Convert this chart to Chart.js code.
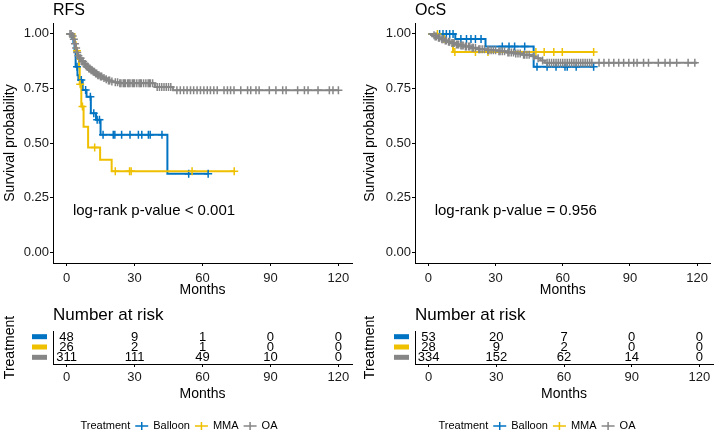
<!DOCTYPE html>
<html>
<head>
<meta charset="utf-8">
<script src="https://cdn.jsdelivr.net/npm/chart.js@4.4.1/dist/chart.umd.min.js"></script>
<style>
  body { margin: 0; background: #fff; }
  #wrap { position: relative; width: 716px; height: 433px; }
  canvas { position: absolute; }
</style>
</head>
<body>
<div id="wrap">
  <canvas id="kmRfs" width="358" height="300" style="left:0;top:0"></canvas>
  <canvas id="kmOcs" width="358" height="300" style="left:358px;top:0"></canvas>
  <canvas id="riskRfs" width="358" height="133" style="left:0;top:300px"></canvas>
  <canvas id="riskOcs" width="358" height="133" style="left:358px;top:300px"></canvas>
</div>
<script>
const FONT = "'Liberation Sans', Arial, sans-serif";
Chart.defaults.font.family = FONT;
Chart.defaults.color = "#000";

const groups = ["Balloon", "MMA", "OA"];
const groupColors = ["#0073C2", "#EFC000", "#868686"];
const xTicks = [0, 30, 60, 90, 120];
const yTicks = [0, 0.25, 0.5, 0.75, 1];

// RFS step curves: [month, survival]
const rfsBalloon = [[0,1],[2.5,0.979],[3,0.958],[3.5,0.917],[4,0.85],[4.8,0.81],[5.2,0.789],[7.1,0.743],[8.8,0.712],[10.7,0.636],[13,0.606],[15,0.538],[44.5,0.359],[62.5,0.359]];
const rfsMma = [[0,1],[3.5,0.962],[4,0.923],[5,0.885],[5.5,0.846],[5.8,0.769],[6.5,0.667],[7.5,0.575],[9.5,0.479],[14.8,0.423],[19.9,0.37],[74,0.37]];
const rfsOa = [[0,1],[2.5,0.99],[3,0.975],[3.5,0.955],[4,0.935],[4.5,0.915],[5,0.9],[5.5,0.888],[6.5,0.873],[7.5,0.862],[8.5,0.851],[9.5,0.841],[10.5,0.834],[11.5,0.826],[12.5,0.818],[13.5,0.811],[14.5,0.805],[16,0.798],[17,0.792],[18,0.787],[19.5,0.782],[21,0.778],[23,0.774],[39,0.757],[47,0.742],[120,0.742]];

// RFS censoring times (months)
const rfsBalloonCens = [4.6,6.5,8.4,10.5,12,13.5,14.5,16.1,20.6,21.3,24.3,28,31.7,33.2,36.1,36.9,42.1,53.9,62.5];
const rfsMmaCens = [4.6,6,7,12.4,21.5,27.8,28.5,55.4,74];
const rfsOaCens = [1.5,2,2.7,3.2,3.7,4.2,4.7,5.2,5.8,6.2,6.8,7.3,7.8,8.2,8.8,9.3,9.8,10.3,10.8,11.3,11.8,12.3,12.8,13.3,13.8,14.3,15,15.5,16.5,17.5,18.5,19,20,21.5,22.5,23.5,24,25,25.5,26,27,27.5,28,29,29.5,30,31,32,32.5,33,34,35,36,36.5,37,38,40,41,42,43,44,45,46,48.7,50.2,51.7,53.2,54.7,56.1,57.6,59.1,60.6,62.1,63.5,65,66.5,69.5,71,72.4,73.9,76.9,79.9,81.3,83.6,85,89.5,92.4,95.4,96.9,102,105,106.6,111,116,117.6,120];

// OcS step curves
const ocsBalloon = [[0,1],[12,0.977],[25.5,0.942],[47,0.85],[74,0.85]];
const ocsMma = [[0,1],[7,0.964],[11,0.917],[74,0.917]];
const ocsOa = [[0,1],[2,0.994],[3,0.988],[4,0.982],[5.5,0.976],[7,0.97],[8.5,0.964],[10,0.958],[12,0.952],[14,0.947],[16,0.942],[19,0.936],[22,0.93],[26,0.925],[31,0.92],[35,0.915],[38.5,0.91],[42,0.905],[46,0.898],[47.5,0.888],[50,0.878],[52,0.868],[120,0.868]];

// OcS censoring times
const ocsBalloonCens = [5,6.5,8,9.5,11,14.5,17,19,21,23.5,33,36,38.5,43,48.5,53,57,61,62,66,73.8];
const ocsMmaCens = [4,11.8,21,26.6,48,51.7,56,59.8,73.8];
const ocsOaCens = [2.5,3,3.5,4.5,5,6,6.5,7.5,8,9,9.5,10.5,11,11.5,12.5,13,13.5,14.5,15,15.5,16.5,17,18,18.5,19.5,20,21,22.5,23,24,25,26.5,27,28,29,30,31.5,32,33,34,35.5,36,37,38,39,40,41,42.5,43,44,45,47,49,51,53,54,55,56,57,58,59,60,61,62,63,64,65,66,67,68,69,70,71,72,73,76.2,78.4,80.6,82.8,85,87.2,89.5,91.7,93.2,96.1,98.3,102.7,105.7,107.9,110.9,116,119];

// number at risk at xTicks
const rfsRiskBalloon = [48, 9, 1, 0, 0];
const rfsRiskMma = [26, 2, 1, 0, 0];
const rfsRiskOa = [311, 111, 49, 10, 0];
const ocsRiskBalloon = [53, 20, 7, 0, 0];
const ocsRiskMma = [28, 9, 2, 0, 0];
const ocsRiskOa = [334, 152, 62, 14, 0];

function survAt(steps, t) {
  let s = steps[0][1];
  steps.forEach(p => { if (p[0] <= t) s = p[1]; });
  return s;
}

function xScale(height, pad) {
  return {
    type: "linear", min: -6, max: 126,
    afterBuildTicks: s => { s.ticks = xTicks.map(v => ({ value: v })); },
    afterFit: s => { s.height = height; },
    ticks: { font: { size: 13 }, color: "#1a1a1a", padding: pad, maxRotation: 0, autoSkip: false },
    grid: { drawOnChartArea: false, tickLength: 3, color: "#000" },
    border: { color: "#000", width: 1 },
    title: { display: true, text: "Months", font: { size: 14 }, color: "#000", padding: { top: 0, bottom: 1 } }
  };
}

function kmChart(id, o) {
  const datasets = [];
  // censor marks first so they are drawn on top of the lines
  for (let i = groups.length - 1; i >= 0; i--) {
    datasets.push({
      data: o.cens[i].map(t => ({ x: t, y: survAt(o.curves[i], t) })),
      pointStyle: "cross", pointRadius: 4, borderWidth: 1.5,
      borderColor: groupColors[i], showLine: false
    });
  }
  for (let i = groups.length - 1; i >= 0; i--) {
    datasets.push({
      data: o.curves[i].map(p => ({ x: p[0], y: p[1] })),
      showLine: true, stepped: "before", pointRadius: 0,
      borderWidth: 2, borderColor: groupColors[i], fill: false
    });
  }

  new Chart(document.getElementById(id), {
    type: "scatter",
    data: { datasets },
    options: {
      responsive: false, animation: false, devicePixelRatio: 1, events: [],
      layout: { padding: { top: 23, right: o.rightPad, bottom: 0, left: 0 } },
      scales: {
        x: xScale(37, 5),
        y: {
          type: "linear", min: -0.05, max: 1.05,
          afterBuildTicks: s => { s.ticks = yTicks.map(v => ({ value: v })); },
          afterFit: s => { s.width = o.leftW; },
          ticks: { font: { size: 13 }, color: "#1a1a1a", padding: 1, callback: v => v.toFixed(2) },
          grid: { drawOnChartArea: false, tickLength: 3, color: "#000" },
          border: { color: "#000", width: 1 },
          title: { display: true, text: "Survival probability", font: { size: 14 }, color: "#000", padding: { top: o.titlePad, bottom: 0 } }
        }
      },
      plugins: { legend: { display: false }, tooltip: { enabled: false } }
    },
    plugins: [{
      id: "kmText",
      afterDraw(chart) {
        const ctx = chart.ctx, a = chart.chartArea;
        ctx.save();
        ctx.fillStyle = "#000";
        ctx.textAlign = "left";
        ctx.textBaseline = "middle";
        ctx.font = "16px " + FONT;
        ctx.fillText(o.title, a.left, 11);
        ctx.font = "15px " + FONT;
        ctx.fillText(o.pval, chart.scales.x.getPixelForValue(2.8), chart.scales.y.getPixelForValue(0.19));
        ctx.restore();
      }
    }]
  });
}

function riskChart(id, o) {
  new Chart(document.getElementById(id), {
    type: "scatter",
    data: { datasets: [] },
    options: {
      responsive: false, animation: false, devicePixelRatio: 1, events: [],
      layout: { padding: { top: 31, right: o.rightPad, bottom: 29, left: 0 } },
      scales: {
        x: xScale(40, 3),
        y: {
          type: "linear", min: 0.4, max: 3.6, reverse: true,
          afterFit: s => { s.width = o.leftW; },
          ticks: { display: false },
          grid: { display: false },
          border: { color: "#000", width: 1 },
          title: { display: true, text: "Treatment", font: { size: 14 }, color: "#000", padding: { top: o.titlePad, bottom: 0 } }
        }
      },
      plugins: { legend: { display: false }, tooltip: { enabled: false } }
    },
    plugins: [{
      id: "riskText",
      afterDraw(chart) {
        const ctx = chart.ctx, a = chart.chartArea;
        const xs = chart.scales.x, ys = chart.scales.y;
        ctx.save();
        ctx.fillStyle = "#000";
        ctx.textBaseline = "middle";
        ctx.textAlign = "left";
        ctx.font = "17px " + FONT;
        ctx.fillText("Number at risk", a.left, 15);

        ctx.font = "13px " + FONT;
        ctx.textAlign = "center";
        o.risk.forEach((row, i) => {
          const y = ys.getPixelForValue(i + 1);
          ctx.fillStyle = groupColors[i];
          ctx.fillRect(a.left - 21, y - 3, 15, 5);
          ctx.fillStyle = "#000";
          row.forEach((n, j) => ctx.fillText(String(n), xs.getPixelForValue(xTicks[j]), y));
        });

        // legend
        ctx.font = "11px " + FONT;
        ctx.textAlign = "left";
        const lineW = 13, gap = 5, ly = 126;
        let total = ctx.measureText("Treatment").width;
        groups.forEach(g => { total += 2 * gap + lineW + ctx.measureText(g).width; });
        let x = chart.width / 2 - total / 2;
        ctx.fillStyle = "#000";
        ctx.fillText("Treatment", x, ly);
        x += ctx.measureText("Treatment").width + gap;
        groups.forEach((g, i) => {
          ctx.strokeStyle = groupColors[i];
          ctx.lineWidth = 1.5;
          ctx.beginPath();
          ctx.moveTo(x, ly); ctx.lineTo(x + lineW, ly);
          ctx.moveTo(x + lineW / 2, ly - 4); ctx.lineTo(x + lineW / 2, ly + 4);
          ctx.stroke();
          x += lineW + gap;
          ctx.fillStyle = "#000";
          ctx.fillText(g, x, ly);
          x += ctx.measureText(g).width + gap;
        });
        ctx.restore();
      }
    }]
  });
}

kmChart("kmRfs", {
  title: "RFS", pval: "log-rank p-value < 0.001",
  curves: [rfsBalloon, rfsMma, rfsOa], cens: [rfsBalloonCens, rfsMmaCens, rfsOaCens],
  leftW: 53, rightPad: 6, titlePad: 2
});
kmChart("kmOcs", {
  title: "OcS", pval: "log-rank p-value = 0.956",
  curves: [ocsBalloon, ocsMma, ocsOa], cens: [ocsBalloonCens, ocsMmaCens, ocsOaCens],
  leftW: 57, rightPad: 3, titlePad: 4
});
riskChart("riskRfs", { risk: [rfsRiskBalloon, rfsRiskMma, rfsRiskOa], leftW: 53, rightPad: 6, titlePad: 2 });
riskChart("riskOcs", { risk: [ocsRiskBalloon, ocsRiskMma, ocsRiskOa], leftW: 57, rightPad: 3, titlePad: 4 });
</script>
</body>
</html>
